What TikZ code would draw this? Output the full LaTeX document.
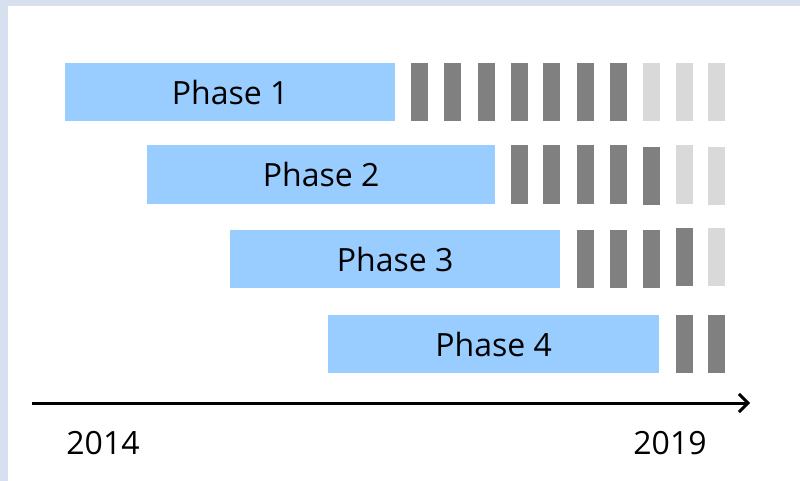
\documentclass[tikz,border=0pt]{standalone}
\usepackage{fontspec}
\setmainfont{Open Sans}
\usetikzlibrary{arrows.meta}
\definecolor{framec}{HTML}{D6E0EF}
\definecolor{phaseblue}{HTML}{99CCFF}
\definecolor{darkbar}{HTML}{808080}
\definecolor{lightbar}{HTML}{D9D9D9}
\tikzset{
  phasebar/.style={fill=phaseblue, draw=none, inner sep=0pt, anchor=north west, font=\fontsize{32}{38}\selectfont},
  dbar/.style={fill=darkbar, draw=none, inner sep=0pt, anchor=north west, minimum width=17pt},
  lbar/.style={fill=lightbar, draw=none, inner sep=0pt, anchor=north west, minimum width=17pt},
  yearlabel/.style={font=\fontsize{32}{38}\selectfont, inner sep=0pt},
}
\begin{document}
\begin{tikzpicture}[x=1pt,y=-1pt]
\useasboundingbox (0,0) rectangle (800,481);
\fill[framec] (0,0) rectangle (800,6);
\fill[framec] (0,0) rectangle (8,481);
% Row 1
\node[phasebar, minimum width=330pt, minimum height=58pt] (p1) at (65,63) {Phase 1};
\foreach \x [count=\i] in {411,444,478,511,543,577,610}
  \node[dbar, minimum height=58pt] (r1d\i) at (\x,63) {};
\foreach \x [count=\i] in {643,676,708}
  \node[lbar, minimum height=58pt] (r1l\i) at (\x,63) {};
% Row 2
\node[phasebar, minimum width=348pt, minimum height=59pt] (p2) at (147,145) {Phase 2};
\foreach \x [count=\i] in {511,543,577,610}
  \node[dbar, minimum height=59pt] (r2d\i) at (\x,145) {};
\node[dbar, minimum height=58pt] (r2d5) at (643,147) {};
\node[lbar, minimum height=59pt] (r2l1) at (676,145) {};
\node[lbar, minimum height=58pt] (r2l2) at (708,147) {};
% Row 3
\node[phasebar, minimum width=330pt, minimum height=58pt] (p3) at (230,230) {Phase 3};
\foreach \x [count=\i] in {577,610,643}
  \node[dbar, minimum height=58pt] (r3d\i) at (\x,230) {};
\node[dbar, minimum height=58pt] (r3d4) at (676,228) {};
\node[lbar, minimum height=58pt] (r3l1) at (708,228) {};
% Row 4
\node[phasebar, minimum width=331pt, minimum height=58pt] (p4) at (328,315) {Phase 4};
\node[dbar, minimum height=58pt] (r4d1) at (676,315) {};
\node[dbar, minimum height=58pt] (r4d2) at (708,315) {};
% Axis
\coordinate (axs) at (32,403);
\coordinate (axe) at (750,403);
\draw[line width=3pt, -{Straight Barb[length=9pt,width=18pt,line width=3pt]}] (axs) -- (axe);
\node[yearlabel] (y2014) at (103,443) {2014};
\node[yearlabel] (y2019) at (670,443) {2019};
\end{tikzpicture}
\end{document}
